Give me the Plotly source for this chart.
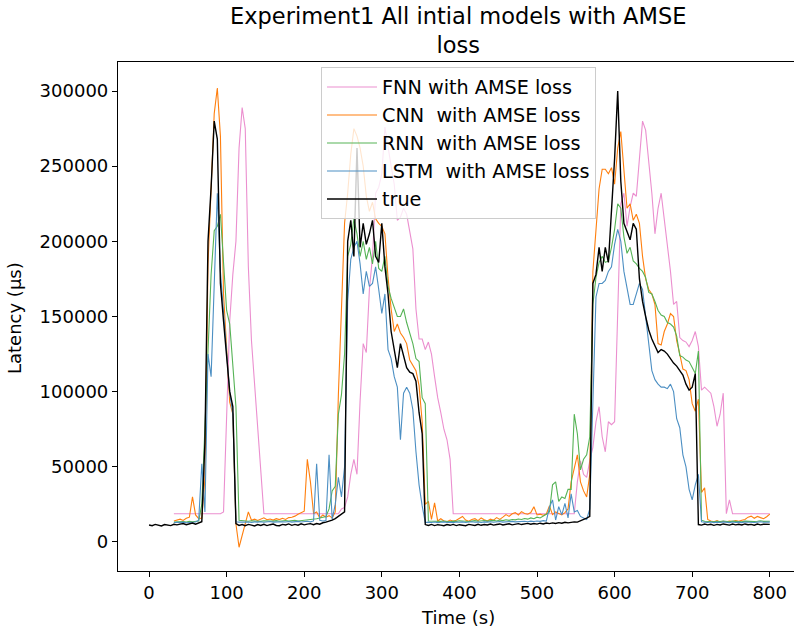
import plotly.graph_objects as go

# Sample instants (s), one reading every 4 s
time_s = list(range(0, 801, 4))

# Latency readings in thousands of microseconds, ten samples (40 s) per row
true_k = [
    11.3, 10.8, 11.7, 11.2, 10.7, 11.6, 11.3, 10.9, 11.8, 11.4,
    11.9, 12.3, 11.5, 12.1, 12.6, 11.8, 12.5, 13.5, 66, 200,
    236, 280, 268, 172, 147, 122, 100, 90, 12.2, 11.0,
    11.6, 10.8, 11.7, 11.2, 10.7, 11.6, 11.0, 11.8, 10.9, 11.5,
    11.9, 11.0, 10.8, 11.7, 11.3, 12.0, 11.1, 11.7, 11.2, 12.1,
    11.4, 11.9, 12.2, 11.5, 12.3, 11.8, 12.8, 13.2, 13.8, 14.6,
    15.6, 17.0, 18.2, 20.0, 200, 214, 190, 262, 196, 212,
    198, 205, 214, 190, 186, 212, 183, 165, 140, 128,
    116, 132, 124, 116, 113, 112, 107, 86, 72, 11.6,
    11.0, 11.7, 10.9, 11.5, 11.2, 10.8, 11.6, 11.1, 11.7, 10.9,
    11.5, 11.2, 10.8, 11.7, 11.4, 11.0, 11.8, 11.1, 11.6, 11.3,
    11.9, 11.2, 11.6, 12.0, 11.3, 11.8, 12.1, 11.4, 11.9, 12.2,
    11.6, 12.1, 12.4, 11.8, 12.3, 11.9, 12.5, 12.0, 12.6, 12.2,
    12.7, 12.3, 12.9, 12.5, 13.1, 12.7, 13.3, 13.4, 13.2, 14.0,
    14.5, 15.8, 17.0, 172, 178, 196, 180, 196, 186, 222,
    255, 300, 240, 212, 206, 201, 212, 208, 175, 160,
    150, 141, 135, 131, 126, 128, 127, 125, 122, 119,
    117, 114, 111, 105, 101, 103, 112, 11.6, 11.2, 11.9,
    11.4, 11.8, 11.1, 11.7, 11.3, 12.0, 11.5, 11.2, 11.9, 11.4,
    11.8, 11.3, 12.0, 11.5, 11.7, 11.2, 11.9, 11.4, 11.8, 11.5,
    11.7,
]

fnn_k = [
    None, None, None, None, None, None, None, None, 18.8, 18.8,
    18.8, 18.8, 18.8, 18.8, 18.8, 18.8, 18.8, 18.8, 18.8, 18.8,
    18.8, 18.8, 18.8, 18.8, 20, 83, 147, 178, 200, 262,
    289, 275, 183, 134, 105, 75, 45, 18.8, 18.8, 18.8,
    18.8, 18.8, 18.8, 18.8, 18.8, 18.8, 18.8, 18.8, 18.8, 18.8,
    18.8, 18.8, 18.8, 18.8, 18.8, 18.8, 18.8, 18.8, 18.8, 18.8,
    18.8, 18.8, 22, 23, 30, 45, 55, 45, 94, 132,
    126, 168, 190, 232, 236, 245, 276, 262, 250, 238,
    214, 216, 222, 218, 207, 195, 155, 135, 135, 128,
    133, 125, 110, 96, 86, 75, 68, 55, 18.8, 18.8,
    18.8, 18.8, 18.8, 18.8, 18.8, 18.8, 18.8, 18.8, 18.8, 18.8,
    18.8, 18.8, 18.8, 18.8, 18.8, 18.8, 18.8, 18.8, 18.8, 18.8,
    18.8, 18.8, 18.8, 18.8, 18.8, 18.8, 18.8, 18.8, 18.8, 18.8,
    18.8, 18.8, 18.8, 18.8, 18.8, 18.8, 18.8, 18.8, 40, 54,
    45, 43, 54, 63, 80, 90, 70, 60, 80, 78,
    80, 155, 225, 232, 210, 223, 232, 230, 255, 280,
    274, 255, 232, 205, 222, 232, 215, 196, 180, 158,
    160, 136, 134, 133, 130, 134, 140, 130, 101, 103,
    101, 99, 90, 77, 85, 99, 18.8, 28, 18.8, 18.8,
    18.8, 18.8, 18.8, 18.8, 18.8, 18.8, 18.8, 18.8, 18.8, 18.8,
    18.8,
]

cnn_k = [
    None, None, None, None, None, None, None, None, 14.0, 14.6,
    15.2, 14.3, 15.8, 16.5, 30, 18, 15.5, 16.0, 42, 185,
    232, 285, 302, 270, 165, 128, 93, 85, 12, -3.5,
    4, 11, 20, 14.5, 15.2, 14.3, 15.0, 16.1, 14.8, 15.3,
    14.6, 15.5, 14.9, 15.8, 15.0, 16.2, 16.5, 17.2, 18.5, 19.5,
    20.5, 55, 40, 19, 20, 16, 18, 16.5, 17.5, 16.0,
    20, 98, 150, 212, 232, 258, 275, 270, 262, 250,
    230, 220, 226, 215, 212, 210, 205, 176, 155, 140,
    145, 139, 136, 132, 121, 117, 114, 104, 80, 25,
    27, 15, 26, 14, 15.5, 14, 13.5, 14.6, 13.8, 14.5,
    15.8, 17.0, 14.6, 13.8, 14.9, 15.5, 14.2, 16.0, 14.8, 13.9,
    15.2, 14.5, 16.2, 15.0, 16.5, 18.2, 17.0, 18.8, 19.5, 18.0,
    20.2, 19.0, 18.5, 19.6, 23.5, 18.0, 18.5, 17.8, 18.6, 24,
    18.2, 20.0, 19.0, 18.0, 19.5, 22, 40, 50, 58, 40,
    34, 30, 45, 180, 205, 235, 248, 248, 245, 249,
    238, 262, 273, 250, 222, 225, 214, 218, 212, 190,
    175, 168, 165, 158, 132, 131, 140, 145, 152, 150,
    134, 125, 115, 114, 108, 92, 87, 95, 33, 36,
    15, 14, 13.5, 14.2, 13.2, 13.8, 13.5, 14.0, 13.6, 14.2,
    13.8, 14.5, 15.0, 16.5, 17.2, 15.8, 17.0, 16.2, 15.5, 16.8,
    18.5,
]

rnn_k = [
    None, None, None, None, None, None, None, None, 13.2, 13.5,
    13.4, 13.6, 13.3, 13.7, 13.5, 13.8, 14.0, 25, 80, 130,
    178, 207, 210, 218, 185, 154, 145, 115, 90, 14.5,
    14.2, 14.0, 13.8, 14.1, 13.9, 14.0, 13.7, 14.1, 13.8, 14.0,
    13.9, 14.2, 13.8, 14.0, 14.3, 13.9, 14.1, 14.4, 14.0, 14.2,
    14.6, 15.0, 14.7, 15.2, 15.5, 16.0, 16.5, 17.0, 22, 34,
    37, 85, 98, 125, 190, 198, 215, 205, 190, 200,
    188, 196, 185, 200, 182, 180, 190, 170, 162, 156,
    150, 150, 155, 146, 139, 132, 122, 120, 96, 92,
    14.0, 13.8, 13.6, 13.9, 13.7, 14.0, 13.8, 13.5, 13.9, 13.7,
    14.1, 13.8, 14.0, 13.6, 13.9, 14.2, 13.8, 14.0, 14.3, 13.9,
    14.1, 14.4, 14.0, 14.6, 14.2, 14.8, 14.4, 15.0, 14.7, 15.3,
    15.0, 15.6, 15.2, 16.0, 15.5, 16.5, 16.0, 17.0, 18.5, 20.0,
    38, 40, 27, 30, 29, 35, 35, 85, 72, 48,
    55, 58, 70, 158, 176, 186, 190, 186, 187, 196,
    208, 225, 222, 203, 192, 196, 187, 185, 182, 180,
    176, 166, 165, 160, 154, 151, 150, 146, 145, 143,
    137, 124, 123, 121, 120, 116, 112, 127, 14.5, 13.8,
    13.6, 13.9, 13.5, 13.8, 13.6, 14.0, 13.7, 13.5, 13.9, 13.6,
    13.8, 13.5, 13.9, 13.7, 14.0, 13.6, 13.8, 14.1, 13.7, 13.9,
    13.8,
]

lstm_k = [
    None, None, None, None, None, None, None, None, 12.8, 13.1,
    12.9, 13.2, 12.8, 13.1, 13.0, 13.3, 14.5, 52, 20, 125,
    110, 170, 232, 180, 152, 126, 99, 85, 13.5, 13.2,
    13.4, 13.1, 13.3, 13.0, 13.4, 13.2, 13.5, 13.1, 13.3, 13.6,
    13.2, 13.4, 13.1, 13.5, 13.3, 13.6, 13.2, 13.4, 13.7, 13.3,
    13.5, 13.8, 13.4, 14.0, 52, 14.5, 14.0, 14.2, 58, 15,
    25, 43, 30, 50, 160, 188, 196, 200, 185, 165,
    180, 170, 172, 183, 168, 152, 165, 128, 122, 110,
    103, 68, 99, 103, 99, 88, 60, 38, 24, 13,
    13.2, 13.0, 13.3, 12.9, 13.1, 13.4, 13.0, 13.2, 12.9, 13.3,
    13.1, 13.4, 13.0, 13.2, 13.5, 13.1, 13.3, 13.0, 13.4, 13.2,
    13.5, 13.1, 13.4, 13.6, 13.2, 13.5, 13.3, 13.7, 13.4, 13.6,
    13.3, 13.8, 13.5, 13.9, 13.6, 14.0, 13.7, 14.2, 13.9, 23,
    28, 14.6, 23.5, 18, 25.7, 16, 32, 20, 21, 17,
    16, 15, 22, 100, 163, 172, 172, 174, 180, 183,
    198, 208, 200, 180, 168, 158, 158, 165, 172, 168,
    150, 130, 114, 108, 105, 103, 103, 102, 105, 100,
    82, 76, 58, 50, 35, 28, 38, 45, 13.5, 13.2,
    13.0, 13.3, 12.9, 13.2, 13.0, 13.4, 13.1, 12.9, 13.3, 13.0,
    13.2, 12.9, 13.3, 13.1, 13.4, 13.0, 13.2, 13.5, 13.1, 13.3,
    13.2,
]

x_ticks = [0, 100, 200, 300, 400, 500, 600, 700, 800]
y_ticks = [0, 50000, 100000, 150000, 200000, 250000, 300000]


def to_us(values):
    return [None if v is None else v * 1000 for v in values]


series = [
    ("FNN with AMSE loss", fnn_k, "#eb8fcf", 1.1),
    ("CNN  with AMSE loss", cnn_k, "#ff7f0e", 1.1),
    ("RNN  with AMSE loss", rnn_k, "#56b356", 1.1),
    ("LSTM  with AMSE loss", lstm_k, "#4c8fc3", 1.1),
    ("true", true_k, "#000000", 1.4),
]

FONT = "DejaVu Sans"

fig = go.Figure()
for name, vals, color, width in series:
    fig.add_trace(go.Scatter(
        x=time_s, y=to_us(vals), mode="lines", name=name,
        line=dict(color=color, width=width), connectgaps=False,
    ))

# Plot area spans x 118..794 px, y 62..571 px
L, R, T, B = 118, 794, 62, 571
W, H = 794, 632


def px_x(p):
    return (p - L) / (R - L)


def px_y(p):
    return (B - p) / (B - T)


fig.update_layout(
    width=W, height=H,
    margin=dict(l=L, r=W - R, t=T, b=H - B, pad=0),
    paper_bgcolor="white", plot_bgcolor="white",
    font=dict(family=FONT, color="black", size=18),
    showlegend=True,
    legend=dict(
        x=px_x(321), y=px_y(67), xanchor="left", yanchor="top",
        bgcolor="rgba(255,255,255,0.8)", bordercolor="#cccccc", borderwidth=1,
        font=dict(family=FONT, size=19.23, color="black"),
        itemwidth=50, traceorder="normal",
    ),
    xaxis=dict(
        range=[-40, 831.2], tickmode="array", tickvals=x_ticks,
        ticks="outside", ticklen=5, tickwidth=1, tickcolor="black",
        showline=True, linecolor="black", linewidth=1.2, mirror=True,
        showgrid=False, zeroline=False,
        tickfont=dict(family=FONT, size=18, color="black"),
    ),
    yaxis=dict(
        range=[-19300, 319300], tickmode="array", tickvals=y_ticks,
        tickformat="d",
        ticks="outside", ticklen=5, tickwidth=1, tickcolor="black",
        showline=True, linecolor="black", linewidth=1.2, mirror=False,
        showgrid=False, zeroline=False,
        tickfont=dict(family=FONT, size=18, color="black"),
    ),
    annotations=[
        dict(text="Experiment1 All intial models with AMSE<br>loss",
             x=px_x(458), y=px_y(30),
             xref="paper", yref="paper", xanchor="center", yanchor="middle",
             showarrow=False, font=dict(family=FONT, size=22.5, color="black")),
        dict(text="Time (s)", x=px_x(458), y=px_y(617),
             xref="paper", yref="paper", xanchor="center", yanchor="middle",
             showarrow=False, font=dict(family=FONT, size=18, color="black")),
        dict(text="Latency (µs)", x=px_x(14), y=px_y(318), textangle=-90,
             xref="paper", yref="paper", xanchor="center", yanchor="middle",
             showarrow=False, font=dict(family=FONT, size=18, color="black")),
    ],
)

fig.write_html("out.html", config={"displayModeBar": False})
